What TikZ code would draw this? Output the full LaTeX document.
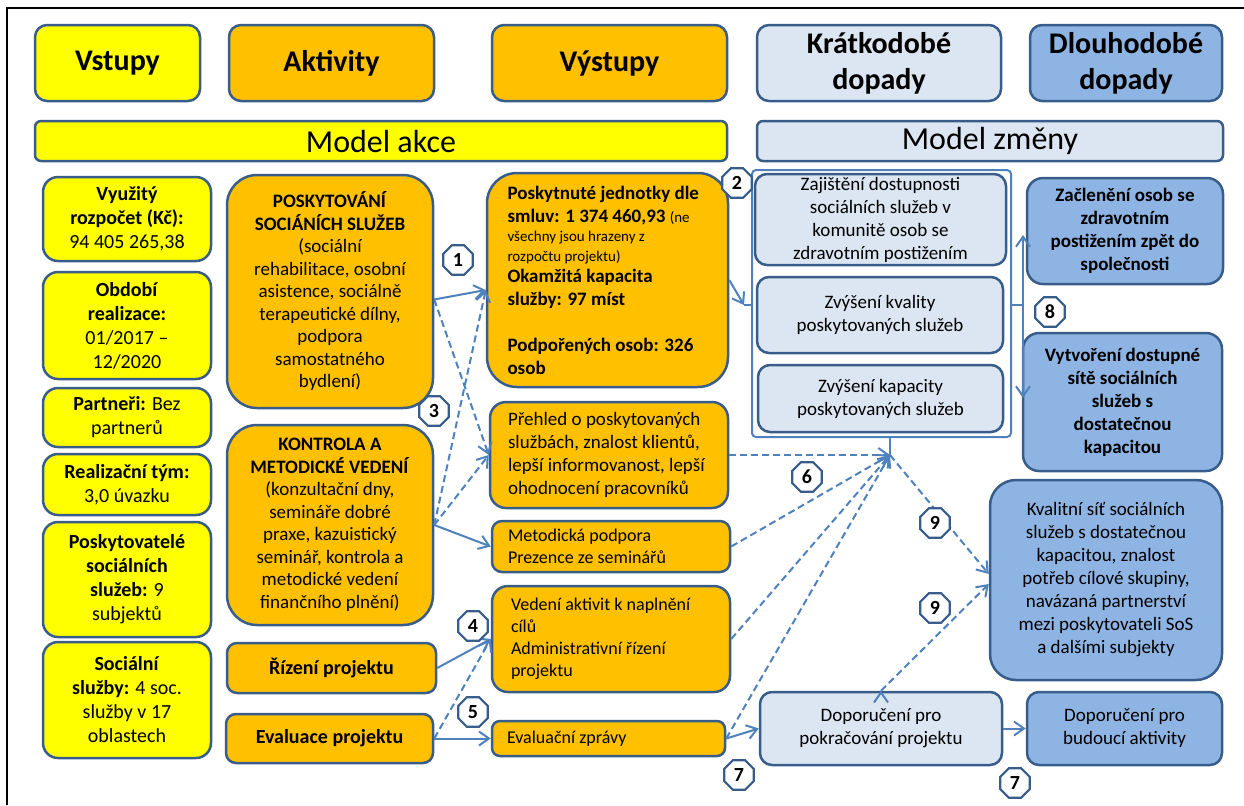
\documentclass[tikz,border=0pt]{standalone}
\usepackage{fontspec}
\setmainfont{Carlito}
\usepackage{tikz}
\usetikzlibrary{arrows.meta,shapes.geometric}

\definecolor{yel}{HTML}{FFFF00}
\definecolor{ora}{HTML}{FFC000}
\definecolor{pale}{HTML}{DCE6F2}
\definecolor{mid}{HTML}{8EB4E3}
\definecolor{edgec}{HTML}{385D8A}
\definecolor{linkc}{HTML}{4F81BD}

\begin{document}
\begin{tikzpicture}[->,>={Straight Barb[length=5pt,width=7pt]},x=0.5pt,y=-0.5pt,
    box/.style={draw=edgec,line width=1.25pt,align=center,inner sep=1pt},
    head/.style={box,rounded corners=6pt,minimum height=38pt,font=\fontsize{15}{18}\selectfont\bfseries},
    bar/.style={box,rounded corners=3pt,minimum height=20pt,font=\fontsize{16}{18}\selectfont},
    in node/.style={box,fill=yel,rounded corners=7.5pt,minimum width=84pt,font=\fontsize{10}{12}\selectfont},
    act node/.style={box,fill=ora,font=\fontsize{9.5}{11.25}\selectfont},
    out node/.style={box,fill=ora,align=flush left,font=\fontsize{9}{11}\selectfont},
    short node/.style={box,fill=pale,rounded corners=6pt,font=\fontsize{9.5}{11.5}\selectfont},
    long node/.style={box,fill=mid,rounded corners=8pt,font=\fontsize{9.5}{11.5}\selectfont},
    num/.style={regular polygon,regular polygon sides=8,draw=edgec,line width=1.1pt,fill=white,
      inner sep=0pt,minimum size=16pt,font=\fontsize{10}{11}\selectfont\bfseries},
    link/.style={draw=linkc,line width=1pt,every edge/.append style={draw=linkc,line width=1pt}},
    dashlink/.style={dash pattern=on 3.5pt off 2pt}]

  \useasboundingbox (0,0) rectangle (1244,805);
  \draw[-,line width=1pt] (7,805) -- (7,8) -- (1244,8);

  \node[head,fill=yel,minimum width=82.5pt] (vstupy) at (117.5,63) {Vstupy};
  \node[head,fill=ora,minimum width=102.5pt] (aktivity) at (331.5,63) {Aktivity};
  \node[head,fill=ora,minimum width=117.5pt] (vystupy) at (609.5,63) {Výstupy};
  \node[head,fill=pale,minimum width=122pt] (kratke) at (879,63) {Krátkodobé\\dopady};
  \node[head,fill=mid,minimum width=96pt] (dlouhe) at (1126,63) {Dlouhodobé\\dopady};
  \node[bar,fill=yel,minimum width=346pt] (akce) at (381,141) {Model akce};
  \node[bar,fill=pale,minimum width=233pt] (zmena) at (990,141) {Model změny};

  \node[in node,minimum height=42pt] (in1) at (127,219) {\textbf{Využitý}\\\textbf{rozpočet (Kč):}\\94 405 265,38};
  \node[in node,minimum height=53.5pt] (in2) at (127,325.5) {\textbf{Období}\\\textbf{realizace:}\\01/2017 –\\12/2020};
  \node[in node,minimum height=29.5pt] (in3) at (127,417.5) {\textbf{Partneři:} Bez\\partnerů};
  \node[in node,minimum height=30.5pt] (in4) at (127,484.5) {\textbf{Realizační tým:}\\3,0 úvazku};
  \node[in node,minimum height=57.5pt] (in5) at (127,579.5) {\textbf{Poskytovatelé}\\\textbf{sociálních}\\\textbf{služeb:} 9\\subjektů};
  \node[in node,minimum height=58pt] (in6) at (127,700) {\textbf{Sociální}\\\textbf{služby:} 4 soc.\\služby v 17\\oblastech};

  \node[act node,rounded corners=15pt,minimum width=103pt,minimum height=116.5pt] (act1) at (330,291.5)
    {\textbf{POSKYTOVÁNÍ}\\\textbf{SOCIÁNÍCH SLUŽEB}\\(sociální\\rehabilitace, osobní\\asistence, sociálně\\terapeutické dílny,\\podpora\\samostatného\\bydlení)};
  \node[act node,rounded corners=15pt,minimum width=103pt,minimum height=100pt] (act2) at (330,525)
    {\textbf{KONTROLA A}\\\textbf{METODICKÉ VEDENÍ}\\(konzultační dny,\\semináře dobré\\praxe, kazuistický\\seminář, kontrola a\\metodické vedení\\finančního plnění)};
  \node[act node,rounded corners=5pt,minimum width=104.5pt,minimum height=25pt,font=\fontsize{10}{12}\selectfont\bfseries] (act3) at (331.5,668) {Řízení projektu};
  \node[act node,rounded corners=5pt,minimum width=103.5pt,minimum height=24.5pt,font=\fontsize{10}{12}\selectfont\bfseries] (act4) at (329.5,738.5) {Evaluace projektu};

  \node[out node,rounded corners=15pt,inner xsep=10.25pt,text width=100pt,minimum height=107pt,font=\fontsize{9.5}{11.5}\selectfont\bfseries] (out1) at (607.5,280)
    {Poskytnuté jednotky dle\\smluv: 1 374 460,93 {\mdseries\fontsize{7.5}{9.5}\selectfont (ne}\\[-1.75pt]
     {\mdseries\fontsize{7.5}{9.5}\selectfont všechny jsou hrazeny z}\\[-1.75pt]
     {\mdseries\fontsize{7.5}{9.5}\selectfont rozpočtu projektu)}\\[-1pt]
     Okamžitá kapacita\\služby: 97 míst\\[11.5pt]Podpořených osob: 326\\osob};
  \node[out node,rounded corners=8pt,inner xsep=9pt,text width=101pt,minimum height=53pt,font=\fontsize{9.5}{11.5}\selectfont] (out2) at (609,455)
    {Přehled o poskytovaných\\službách, znalost klientů,\\lepší informovanost, lepší\\ohodnocení pracovníků};
  \node[out node,rounded corners=5pt,inner xsep=8pt,text width=103pt,minimum height=25.5pt] (out3) at (611,546.5)
    {Metodická podpora\\Prezence ze seminářů};
  \node[out node,rounded corners=8pt,inner xsep=9.5pt,text width=100pt,minimum height=53pt] (out4) at (611,639)
    {Vedení aktivit k naplnění\\cílů\\Administrativní řízení\\projektu};
  \node[out node,rounded corners=4pt,inner xsep=7.5pt,text width=101.5pt,minimum height=17.5pt] (out5) at (608.5,738.5)
    {Evaluační zprávy};

  \node[short node,minimum width=125.5pt,minimum height=45.5pt] (st1) at (880.5,219.5)
    {Zajištění dostupnosti\\sociálních služeb v\\komunitě osob se\\zdravotním postižením};
  \node[short node,minimum width=123pt,minimum height=38pt] (st2) at (880,315)
    {Zvýšení kvality\\poskytovaných služeb};
  \node[short node,minimum width=122.5pt,minimum height=33.5pt] (st3) at (880.5,398.5)
    {Zvýšení kapacity\\poskytovaných služeb};
  \node[short node,minimum width=121pt,minimum height=36.5pt] (st4) at (881,728.5)
    {Doporučení pro\\pokračování projektu};

  \node[long node,minimum width=98pt,minimum height=53pt,font=\fontsize{9.5}{11.5}\selectfont\bfseries] (lt1) at (1125,231)
    {Začlenění osob se\\zdravotním\\postižením zpět do\\společnosti};
  \node[long node,minimum width=99.5pt,minimum height=69pt,font=\fontsize{9.5}{11.5}\selectfont\bfseries] (lt2) at (1122.5,402)
    {Vytvoření dostupné\\sítě sociálních\\služeb s\\dostatečnou\\kapacitou};
  \node[long node,rounded corners=13pt,minimum width=116pt,minimum height=100pt] (lt3) at (1106,580)
    {Kvalitní síť sociálních\\služeb s dostatečnou\\kapacitou, znalost\\potřeb cílové skupiny,\\navázaná partnerství\\mezi poskytovateli SoS\\a dalšími subjekty};
  \node[long node,rounded corners=6pt,minimum width=97.5pt,minimum height=36.5pt] (lt4) at (1124.5,728.5)
    {Doporučení pro\\budoucí aktivity};

  \coordinate (bl) at (744,305);
  \coordinate (br) at (1023,305);
  \coordinate (hub) at (890,455);
  \coordinate (up) at (1023,235);
  \coordinate (down) at (1023,398);

  \draw[-,link,rounded corners=2pt] (752,170) rectangle (1011,437);
  \draw[-,link] (752,305) -- (bl) (1011,305) -- (br) (890,437) -- (hub);
  \draw[<->,link] (up) -- (down);

  \path[link]
    ([yshift=-4pt]act1.east) edge ([yshift=-5pt]out1.west)
                             edge[dashlink] (out2.west)
    (act2.east) edge[dashlink] ([yshift=-5pt]out1.west)
                edge[dashlink] (out2.west)
                edge (out3.west)
    (act3.east) edge (out4.west)
    (act4.east) edge[dashlink] (out4.west)
                edge (out5.west)
    (out1.east) edge (bl)
    (out2.east) edge[dashlink] (hub)
    (out3.east) edge[dashlink] (hub)
    (out4.east) edge[dashlink] (hub)
    (out5.east) edge[dashlink] (hub)
                edge (st4.west)
    (st4.east) edge (lt4.west)
    (hub) edge[dashlink] ([yshift=3pt]lt3.west)
    (st4.north) edge[dashlink] ([yshift=-2pt]lt3.west);

  \node[num] (n1) at (458,260) {1};
  \node[num] (n2) at (737,183) {2};
  \node[num] (n3) at (434,411) {3};
  \node[num] (n4) at (473,626) {4};
  \node[num] (n5) at (473,712) {5};
  \node[num] (n6) at (807,477) {6};
  \node[num] (n7) at (739,775) {7};
  \node[num] (n7b) at (1015,783) {7};
  \node[num] (n8) at (1050,312) {8};
  \node[num] (n9) at (935,523) {9};
  \node[num] (n9b) at (935,608) {9};

\end{tikzpicture}
\end{document}
